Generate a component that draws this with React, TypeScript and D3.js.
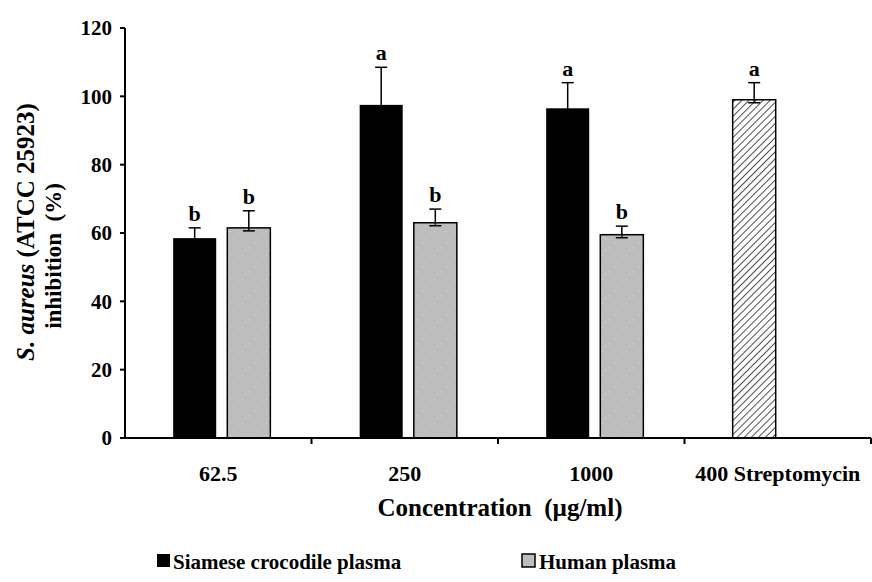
import React from 'react';
import * as d3 from 'd3';

const categories = ["62.5", "250", "1000", "400 Streptomycin"];
const seriesNames = ["Siamese crocodile plasma", "Human plasma"];
const crocodileValues = [58.5, 97.5, 96.5];
const crocodileErrors = [3, 11, 7.5];
const crocodileLetters = ["b", "a", "a"];
const humanValues = [61.5, 63, 59.5];
const humanErrors = [5, 4, 2.5];
const humanLetters = ["b", "b", "b"];
const streptomycinValue = [99];
const streptomycinError = [5];
const streptomycinLetter = ["a"];
const yTicks = [0, 20, 40, 60, 80, 100, 120];

const W = 872, H = 582;
const margin = { left: 125, right: 1, top: 28, bottom: 144 };
const font = "'Liberation Serif', 'Times New Roman', serif";

export default function App() {
  const x0 = d3.scaleBand().domain(categories).range([margin.left, W - margin.right]).padding(0);
  const x1 = d3.scaleBand().domain(seriesNames).range([0, x0.bandwidth()])
    .paddingInner(0.19).paddingOuter(0.85);
  const y = d3.scaleLinear().domain([0, 120]).range([H - margin.bottom, margin.top]);
  const y0 = y(0);

  type Bar = { cat: string; series: string; value: number; err: number; letter: string; fill: string; stroke: boolean };
  const bars: Bar[] = [];
  crocodileValues.forEach((v, i) => bars.push({ cat: categories[i], series: seriesNames[0], value: v, err: crocodileErrors[i], letter: crocodileLetters[i], fill: "#000", stroke: false }));
  humanValues.forEach((v, i) => bars.push({ cat: categories[i], series: seriesNames[1], value: v, err: humanErrors[i], letter: humanLetters[i], fill: "url(#speckle)", stroke: true }));
  streptomycinValue.forEach((v, i) => bars.push({ cat: categories[3], series: seriesNames[0], value: v, err: streptomycinError[i], letter: streptomycinLetter[i], fill: "url(#hatch)", stroke: true }));

  const bw = x1.bandwidth();

  return (
    <svg width={W} height={H} style={{ position: 'absolute', left: 0, top: 0, background: '#fff' }} fontFamily={font}>
      <defs>
        <pattern id="hatch" width="5" height="5" patternUnits="userSpaceOnUse" patternTransform="rotate(45)">
          <rect width="5" height="5" fill="#fff" />
          <line x1="0" y1="0" x2="0" y2="5" stroke="#000" strokeWidth="1.4" />
        </pattern>
        <pattern id="speckle" width="12" height="12" patternUnits="userSpaceOnUse">
          <rect width="12" height="12" fill="#bdbdbd" />
          <rect x="2" y="3" width="1" height="1" fill="#d6d6d6" />
          <rect x="8" y="7" width="1" height="1" fill="#d2d2d2" />
          <rect x="5" y="10" width="1" height="1" fill="#d8d8d8" />
        </pattern>
      </defs>

      {bars.map((b, i) => {
        const bx = (x0(b.cat) ?? 0) + (x1(b.series) ?? 0) + (b.stroke && b.fill !== "url(#hatch)" ? 4 : 3);
        const cx = bx + bw / 2;
        const top = y(b.value);
        const et = y(b.value + b.err);
        return (
          <g key={i}>
            <rect x={bx} y={top} width={bw} height={y0 - top} fill={b.fill}
              stroke={b.stroke ? "#000" : "none"} strokeWidth={1.5} />
            <line x1={cx} x2={cx} y1={top + 2} y2={et} stroke="#000" strokeWidth={1.5} />
            <line x1={cx - 6} x2={cx + 6} y1={et} y2={et} stroke="#000" strokeWidth={1.5} />
            <line x1={cx - 6} x2={cx + 6} y1={top + 3} y2={top + 3} stroke="#000" strokeWidth={1.5} />
            <text x={cx} y={et - 7} textAnchor="middle" fontSize={22} fontWeight="bold">{b.letter}</text>
          </g>
        );
      })}

      {/* y axis */}
      <line x1={margin.left} x2={margin.left} y1={y(120)} y2={y0} stroke="#000" strokeWidth={2} />
      {yTicks.map(t => (
        <g key={t}>
          <line x1={margin.left - 5} x2={margin.left} y1={y(t)} y2={y(t)} stroke="#000" strokeWidth={2} />
          <text x={112} y={y(t)} dy="0.35em" textAnchor="end" fontSize={21} fontWeight="bold">{t}</text>
        </g>
      ))}

      {/* x axis */}
      <line x1={margin.left} x2={W - margin.right} y1={y0} y2={y0} stroke="#000" strokeWidth={2} />
      {categories.map(c => (
        <g key={c}>
          <line x1={(x0(c) ?? 0) + x0.bandwidth()} x2={(x0(c) ?? 0) + x0.bandwidth()} y1={y0} y2={y0 + 6} stroke="#000" strokeWidth={2} />
          <text x={(x0(c) ?? 0) + x0.bandwidth() / 2} y={y0 + 43} textAnchor="middle" fontSize={22} fontWeight="bold">{c}</text>
        </g>
      ))}

      <text x={500} y={516} textAnchor="middle" fontSize={25} fontWeight="bold" xmlSpace="preserve">Concentration  (µg/ml)</text>

      {/* y title */}
      <text transform="translate(34,232) rotate(-90)" textAnchor="middle" fontSize={25} fontWeight="bold">
        <tspan fontStyle="italic">S. aureus</tspan> (ATCC 25923)
      </text>
      <text transform="translate(61,256) rotate(-90)" textAnchor="middle" fontSize={23} fontWeight="bold" xmlSpace="preserve">inhibition  (%)</text>

      {/* legend */}
      <rect x={157} y={554} width={13} height={13} fill="#000" />
      <text x={173} y={569} fontSize={21} fontWeight="bold">{seriesNames[0]}</text>
      <rect x={522} y={554} width={13} height={13} fill="#bdbdbd" stroke="#000" strokeWidth={1.5} />
      <text x={539} y={569} fontSize={21} fontWeight="bold">{seriesNames[1]}</text>
    </svg>
  );
}
